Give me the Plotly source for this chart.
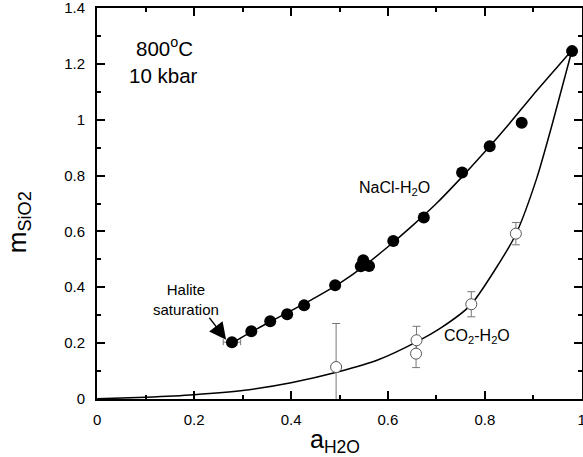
import plotly.graph_objects as go

# NaCl-H2O data (filled circles)
nacl_x = [0.278, 0.318, 0.357, 0.392, 0.427, 0.491, 0.544, 0.549, 0.561, 0.611, 0.674, 0.753, 0.810, 0.876, 0.980]
nacl_y = [0.203, 0.242, 0.278, 0.303, 0.335, 0.407, 0.475, 0.497, 0.476, 0.566, 0.650, 0.811, 0.905, 0.989, 1.246]
nacl_xerr = [0.018, 0, 0, 0, 0, 0, 0, 0, 0, 0, 0, 0, 0, 0, 0]

# CO2-H2O data (open circles)
co2_x = [0.493, 0.659, 0.658, 0.772, 0.864]
co2_y = [0.114, 0.210, 0.162, 0.339, 0.592]
co2_err = [0.156, 0.05, 0.05, 0.045, 0.04]

# Fitted curves
nacl_fit_x = [0.28, 0.30, 0.35, 0.40, 0.45, 0.50, 0.55, 0.60, 0.65, 0.70, 0.75, 0.80, 0.85, 0.90, 0.95, 0.98]
nacl_fit_y = [0.200, 0.222, 0.270, 0.316, 0.363, 0.414, 0.475, 0.545, 0.620, 0.700, 0.790, 0.885, 0.985, 1.090, 1.190, 1.250]
co2_fit_x = [0.0, 0.1, 0.2, 0.3, 0.4, 0.5, 0.58, 0.66, 0.71, 0.77, 0.82, 0.864, 0.907, 0.94, 0.98]
co2_fit_y = [0.0, 0.006, 0.015, 0.030, 0.058, 0.098, 0.140, 0.205, 0.255, 0.335, 0.460, 0.590, 0.790, 0.990, 1.250]

x_ticks = [0, 0.2, 0.4, 0.6, 0.8, 1]
x_tick_labels = ["0", "0.2", "0.4", "0.6", "0.8", "1"]
y_ticks = [0, 0.2, 0.4, 0.6, 0.8, 1, 1.2, 1.4]
y_tick_labels = ["0", "0.2", "0.4", "0.6", "0.8", "1", "1.2", "1.4"]

FONT = "Liberation Sans, Arial, sans-serif"

fig = go.Figure()
fig.add_trace(go.Scatter(x=nacl_fit_x, y=nacl_fit_y, mode="lines",
                         line=dict(color="black", width=1.5, shape="spline", smoothing=0.7),
                         showlegend=False, hoverinfo="skip"))
fig.add_trace(go.Scatter(x=co2_fit_x, y=co2_fit_y, mode="lines",
                         line=dict(color="black", width=1.5, shape="spline", smoothing=0.7),
                         showlegend=False, hoverinfo="skip"))
fig.add_trace(go.Scatter(x=co2_x, y=co2_y, mode="markers",
                         error_y=dict(type="data", array=co2_err, color="#777777", thickness=1, width=4),
                         marker=dict(size=11, color="white", line=dict(color="#555555", width=1)),
                         showlegend=False))
fig.add_trace(go.Scatter(x=nacl_x, y=nacl_y, mode="markers",
                         error_x=dict(type="data", array=nacl_xerr, color="#777777", thickness=1, width=3),
                         marker=dict(size=12, color="black"),
                         showlegend=False))

axis_common = dict(showline=True, linecolor="black", linewidth=2, mirror="ticks",
                   ticks="inside", ticklen=8, tickwidth=1.5, tickcolor="black",
                   showgrid=False, zeroline=False, ticklabeloverflow="allow", automargin=False,
                   tickfont=dict(family=FONT, size=15, color="black"))

fig.update_xaxes(range=[-0.0005, 1.0005], tickvals=x_ticks, ticktext=x_tick_labels,
                 minor=dict(dtick=0.1, ticks="inside", ticklen=4, tickcolor="black", tickwidth=1.5),
                 ticklabelstandoff=6, **axis_common)
fig.update_yaxes(range=[-0.0005, 1.4005], tickvals=y_ticks, ticktext=y_tick_labels,
                 minor=dict(dtick=0.1, ticks="inside", ticklen=4, tickcolor="black", tickwidth=1.5),
                 ticklabelstandoff=7, **axis_common)

ann = [
    dict(x=(335 - 97) / 485, y=(398.6 - 441) / 390.6, xref="paper", yref="paper", text="a<sub>H2O</sub>",
         showarrow=False, xanchor="center", yanchor="middle",
         font=dict(family=FONT, size=25, color="black")),
    dict(x=(18 - 97) / 485, y=(398.6 - 222) / 390.6, xref="paper", yref="paper", text="m<sub>SiO2</sub>",
         showarrow=False, xanchor="center", yanchor="middle",
         textangle=-90, font=dict(family=FONT, size=26, color="black")),
    dict(x=(164 - 97) / 485, y=(398.6 - 47) / 390.6, xref="paper", yref="paper", text="800<sup>o</sup>C",
         showarrow=False, xanchor="center", yanchor="middle", font=dict(family=FONT, size=20.5, color="black")),
    dict(x=(163 - 97) / 485, y=(398.6 - 75) / 390.6, xref="paper", yref="paper", text="10 kbar",
         showarrow=False, xanchor="center", yanchor="middle", font=dict(family=FONT, size=20.5, color="black")),
    dict(x=0.614, y=0.752, xref="x", yref="y", text="NaCl-H<sub>2</sub>O", showarrow=False,
         xanchor="center", yanchor="middle", font=dict(family=FONT, size=16, color="black")),
    dict(x=0.783, y=0.225, xref="x", yref="y", text="CO<sub>2</sub>-H<sub>2</sub>O", showarrow=False,
         xanchor="center", yanchor="middle", font=dict(family=FONT, size=16, color="black")),
    dict(x=0.1835, y=0.355, xref="x", yref="y", text="Halite<br>saturation", showarrow=False,
         xanchor="center", yanchor="middle", font=dict(family=FONT, size=15, color="black")),
    dict(x=0.266, y=0.212, xref="x", yref="y", ax=0.229, ay=0.296, axref="x", ayref="y",
         text="", showarrow=True, arrowhead=2, arrowsize=2.6, arrowwidth=1.3, arrowcolor="black"),
]

fig.update_layout(width=583, height=457, margin=dict(l=97, r=1, t=8, b=58, autoexpand=False),
                  paper_bgcolor="white", plot_bgcolor="white", annotations=ann,
                  font=dict(family=FONT, color="black"))

fig.write_html("out.html")
